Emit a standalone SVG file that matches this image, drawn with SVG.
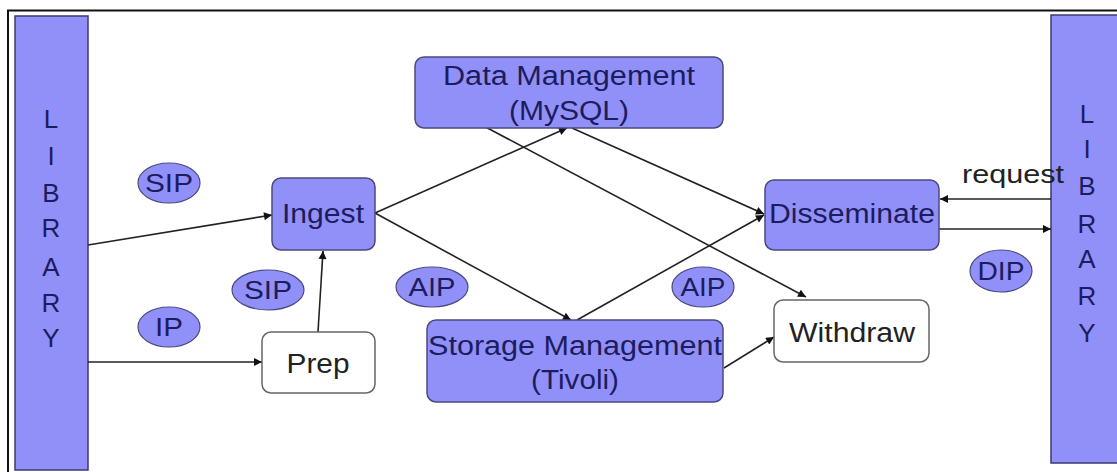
<svg xmlns="http://www.w3.org/2000/svg" width="1117" height="472" viewBox="0 0 1117 472">
<defs>
<style>
.bar{fill:#9090f8;stroke:#3a3a70;stroke-width:1.5}
.box{fill:#9090f8;stroke:#4a4a80;stroke-width:1.5}
.wbox{fill:#ffffff;stroke:#666666;stroke-width:1.5}
.ell{fill:#9090f8;stroke:#4a4a80;stroke-width:1.2}
.t{font-family:"Liberation Sans",Arial,sans-serif;font-size:27px;fill:#1c1c5e;text-anchor:middle}
.tw{font-family:"Liberation Sans",Arial,sans-serif;font-size:27px;fill:#222222;text-anchor:middle}
.lt{font-family:"Liberation Sans",Arial,sans-serif;font-size:26px;fill:#1c1c5e;text-anchor:middle}
.et{font-family:"Liberation Sans",Arial,sans-serif;font-size:26px;fill:#1c1c5e;text-anchor:middle}
.c{fill:none;stroke:#222222;stroke-width:1.6}
</style>
<marker id="ah" viewBox="0 0 10 10" refX="10" refY="5" markerWidth="10" markerHeight="8" markerUnits="userSpaceOnUse" orient="auto">
<path d="M0,0 L10,5 L0,10 z" fill="#111111"/>
</marker>
</defs>
<rect x="0" y="0" width="1117" height="472" fill="#ffffff"/>
<path d="M8,472 L8,10.5 L1117,10.5" fill="none" stroke="#111111" stroke-width="2"/>

<g id="library-left">
<rect class="bar" x="15" y="16" width="73" height="454"/>
<text class="lt" x="51" y="128">L</text>
<text class="lt" x="51" y="165">I</text>
<text class="lt" x="51" y="202">B</text>
<text class="lt" x="51" y="237">R</text>
<text class="lt" x="51" y="276">A</text>
<text class="lt" x="51" y="312">R</text>
<text class="lt" x="51" y="347">Y</text>
</g>

<g id="library-right">
<rect class="bar" x="1051" y="15" width="70" height="448"/>
<text class="lt" x="1087" y="123">L</text>
<text class="lt" x="1087" y="158">I</text>
<text class="lt" x="1087" y="195">B</text>
<text class="lt" x="1087" y="233">R</text>
<text class="lt" x="1087" y="268">A</text>
<text class="lt" x="1087" y="305">R</text>
<text class="lt" x="1087" y="342">Y</text>
</g>

<g id="connectors">
<line class="c" x1="88" y1="245" x2="272" y2="215" marker-end="url(#ah)"/>
<line class="c" x1="88" y1="362" x2="262" y2="362" marker-end="url(#ah)"/>
<line class="c" x1="318" y1="332" x2="323" y2="251" marker-end="url(#ah)"/>
<line class="c" x1="375" y1="213" x2="567" y2="128" marker-end="url(#ah)"/>
<line class="c" x1="375" y1="213" x2="571" y2="320" marker-end="url(#ah)"/>
<line class="c" x1="572" y1="128" x2="764" y2="214" marker-end="url(#ah)"/>
<line class="c" x1="478" y1="123" x2="806" y2="297" marker-end="url(#ah)"/>
<line class="c" x1="577" y1="320" x2="764" y2="215" marker-end="url(#ah)"/>
<line class="c" x1="724" y1="368" x2="774" y2="337" marker-end="url(#ah)"/>
<line class="c" x1="1051" y1="199" x2="940" y2="199" marker-end="url(#ah)"/>
<line class="c" x1="939" y1="229" x2="1051" y2="229" marker-end="url(#ah)"/>
</g>

<g id="data-management">
<rect class="box" x="415" y="57" width="308" height="71" rx="9"/>
<text class="t" x="569" y="85" textLength="252" lengthAdjust="spacingAndGlyphs">Data Management</text>
<text class="t" x="569" y="120" textLength="120" lengthAdjust="spacingAndGlyphs">(MySQL)</text>
</g>

<g id="ingest">
<rect class="box" x="272" y="178" width="103" height="72" rx="9"/>
<text class="t" x="323" y="223" textLength="82" lengthAdjust="spacingAndGlyphs">Ingest</text>
</g>

<g id="prep">
<rect class="wbox" x="262" y="332" width="113" height="61" rx="9"/>
<text class="tw" x="318" y="373" textLength="63" lengthAdjust="spacingAndGlyphs">Prep</text>
</g>

<g id="storage-management">
<rect class="box" x="427" y="320" width="296" height="82" rx="9"/>
<text class="t" x="575" y="355" textLength="294" lengthAdjust="spacingAndGlyphs">Storage Management</text>
<text class="t" x="575" y="389" textLength="88" lengthAdjust="spacingAndGlyphs">(Tivoli)</text>
</g>

<g id="disseminate">
<rect class="box" x="765" y="180" width="174" height="70" rx="9"/>
<text class="t" x="852" y="223" textLength="166" lengthAdjust="spacingAndGlyphs">Disseminate</text>
</g>

<g id="withdraw">
<rect class="wbox" x="774" y="300" width="155" height="62" rx="9"/>
<text class="tw" x="852" y="342" textLength="126" lengthAdjust="spacingAndGlyphs">Withdraw</text>
</g>

<g id="label-sip-1">
<ellipse class="ell" cx="169" cy="183" rx="31" ry="20"/>
<text class="et" x="169" y="192" textLength="48" lengthAdjust="spacingAndGlyphs">SIP</text>
</g>
<g id="label-sip-2">
<ellipse class="ell" cx="268" cy="290" rx="36" ry="20"/>
<text class="et" x="268" y="299" textLength="48" lengthAdjust="spacingAndGlyphs">SIP</text>
</g>
<g id="label-ip">
<ellipse class="ell" cx="169" cy="327" rx="31" ry="20"/>
<text class="et" x="169" y="336" textLength="28" lengthAdjust="spacingAndGlyphs">IP</text>
</g>
<g id="label-aip-1">
<ellipse class="ell" cx="432" cy="287" rx="36" ry="20"/>
<text class="et" x="432" y="296" textLength="47" lengthAdjust="spacingAndGlyphs">AIP</text>
</g>
<g id="label-aip-2">
<ellipse class="ell" cx="703" cy="287" rx="31" ry="20"/>
<text class="et" x="703" y="296" textLength="45" lengthAdjust="spacingAndGlyphs">AIP</text>
</g>
<g id="label-dip">
<ellipse class="ell" cx="1001" cy="271" rx="31" ry="21"/>
<text class="et" x="1001" y="280" textLength="47" lengthAdjust="spacingAndGlyphs">DIP</text>
</g>

<g id="label-request">
<text x="1013" y="183" font-family="Liberation Sans, Arial, sans-serif" font-size="25" fill="#222222" text-anchor="middle" textLength="102" lengthAdjust="spacingAndGlyphs">request</text>
</g>
</svg>
